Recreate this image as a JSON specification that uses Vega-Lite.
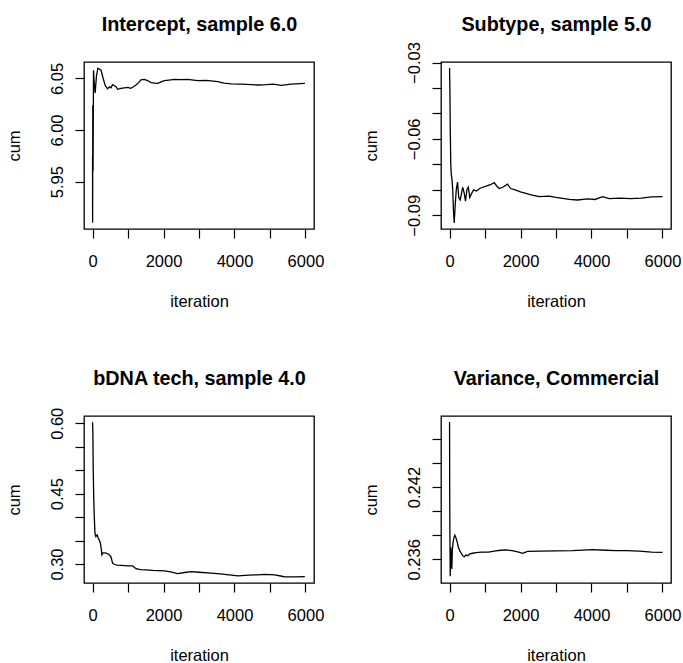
{
  "$schema": "https://vega.github.io/schema/vega-lite/v6.json",
  "padding": {"left": 5, "top": 13, "right": 0, "bottom": 0},
  "background": "white",
  "config": {
    "font": "Liberation Sans",
    "view": {"stroke": "black", "strokeWidth": 1.3},
    "axis": {
      "domain": false, "grid": false, "ticks": true, "tickColor": "black", "tickSize": 9, "tickWidth": 1.2,
      "labelFont": "Liberation Sans", "labelFontSize": 16.5, "labelColor": "black", "labelOverlap": false, "labelFlush": false,
      "titleFont": "Liberation Sans", "titleFontSize": 16.5, "titleFontWeight": "normal", "titleColor": "black"
    },
    "axisX": {
      "labelAngle": 0, "labelAlign": "center", "labelBaseline": "alphabetic", "labelPadding": 28.5,
      "titleX": 115, "titleY": 77, "titleBaseline": "alphabetic", "titleAlign": "center"
    },
    "axisY": {
      "labelAngle": 270, "labelAlign": "center", "labelBaseline": "alphabetic", "labelPadding": 13,
      "titleAngle": 270, "titleX": -65, "titleY": 83.5, "titleBaseline": "alphabetic", "titleAlign": "center"
    },
    "axisTop": {"ticks": false, "labels": false, "titleY": -32, "titleFontWeight": "bold", "titleFontSize": 19.8, "titleX": 115}
  },
  "datasets": {
    "p1": [
      {"iteration": 1, "cum": 5.975}, {"iteration": 3, "cum": 5.910}, {"iteration": 8, "cum": 6.024}, {"iteration": 15, "cum": 5.960},
      {"iteration": 28, "cum": 6.058}, {"iteration": 50, "cum": 6.045}, {"iteration": 75, "cum": 6.036}, {"iteration": 110, "cum": 6.052},
      {"iteration": 150, "cum": 6.060}, {"iteration": 200, "cum": 6.059}, {"iteration": 240, "cum": 6.058}, {"iteration": 300, "cum": 6.050},
      {"iteration": 360, "cum": 6.043}, {"iteration": 424, "cum": 6.040}, {"iteration": 480, "cum": 6.042}, {"iteration": 520, "cum": 6.041},
      {"iteration": 565, "cum": 6.044}, {"iteration": 620, "cum": 6.043}, {"iteration": 660, "cum": 6.042}, {"iteration": 707, "cum": 6.0395},
      {"iteration": 800, "cum": 6.0405}, {"iteration": 900, "cum": 6.041}, {"iteration": 990, "cum": 6.0414}, {"iteration": 1080, "cum": 6.0405},
      {"iteration": 1150, "cum": 6.042}, {"iteration": 1225, "cum": 6.0437}, {"iteration": 1300, "cum": 6.046}, {"iteration": 1366, "cum": 6.0486},
      {"iteration": 1460, "cum": 6.0492}, {"iteration": 1550, "cum": 6.048}, {"iteration": 1650, "cum": 6.046}, {"iteration": 1760, "cum": 6.0455},
      {"iteration": 1837, "cum": 6.0453}, {"iteration": 1950, "cum": 6.047}, {"iteration": 2025, "cum": 6.048}, {"iteration": 2150, "cum": 6.0485},
      {"iteration": 2308, "cum": 6.0492}, {"iteration": 2500, "cum": 6.049}, {"iteration": 2685, "cum": 6.0492}, {"iteration": 2850, "cum": 6.0485},
      {"iteration": 2967, "cum": 6.0479}, {"iteration": 3200, "cum": 6.0482}, {"iteration": 3532, "cum": 6.047}, {"iteration": 3700, "cum": 6.0455},
      {"iteration": 3910, "cum": 6.0447}, {"iteration": 4200, "cum": 6.0445}, {"iteration": 4663, "cum": 6.0437}, {"iteration": 4900, "cum": 6.044},
      {"iteration": 5100, "cum": 6.0445}, {"iteration": 5313, "cum": 6.0434}, {"iteration": 5600, "cum": 6.0445}, {"iteration": 5983, "cum": 6.0453}
    ],
    "p2": [
      {"iteration": 1, "cum": -0.0322}, {"iteration": 10, "cum": -0.0400}, {"iteration": 20, "cum": -0.0550}, {"iteration": 35, "cum": -0.0700},
      {"iteration": 50, "cum": -0.0740}, {"iteration": 70, "cum": -0.0760}, {"iteration": 90, "cum": -0.0800}, {"iteration": 110, "cum": -0.0880},
      {"iteration": 132, "cum": -0.0930}, {"iteration": 160, "cum": -0.0860}, {"iteration": 190, "cum": -0.0800}, {"iteration": 226, "cum": -0.0770},
      {"iteration": 260, "cum": -0.0830}, {"iteration": 300, "cum": -0.0840}, {"iteration": 330, "cum": -0.0820}, {"iteration": 370, "cum": -0.0790},
      {"iteration": 410, "cum": -0.0810}, {"iteration": 450, "cum": -0.0845}, {"iteration": 490, "cum": -0.0800}, {"iteration": 530, "cum": -0.0790},
      {"iteration": 570, "cum": -0.0830}, {"iteration": 620, "cum": -0.0815}, {"iteration": 680, "cum": -0.0800}, {"iteration": 760, "cum": -0.0805},
      {"iteration": 850, "cum": -0.0795}, {"iteration": 930, "cum": -0.0790}, {"iteration": 1050, "cum": -0.0785}, {"iteration": 1150, "cum": -0.0780},
      {"iteration": 1259, "cum": -0.0772}, {"iteration": 1330, "cum": -0.0785}, {"iteration": 1400, "cum": -0.0795}, {"iteration": 1500, "cum": -0.0790},
      {"iteration": 1634, "cum": -0.0778}, {"iteration": 1720, "cum": -0.0795}, {"iteration": 1850, "cum": -0.0800}, {"iteration": 2000, "cum": -0.0808},
      {"iteration": 2151, "cum": -0.0814}, {"iteration": 2300, "cum": -0.0820}, {"iteration": 2527, "cum": -0.0827}, {"iteration": 2800, "cum": -0.0825},
      {"iteration": 3000, "cum": -0.0830}, {"iteration": 3372, "cum": -0.0838}, {"iteration": 3600, "cum": -0.0840}, {"iteration": 3900, "cum": -0.0836},
      {"iteration": 4100, "cum": -0.0838}, {"iteration": 4310, "cum": -0.0827}, {"iteration": 4500, "cum": -0.0835}, {"iteration": 4800, "cum": -0.0833},
      {"iteration": 5100, "cum": -0.0835}, {"iteration": 5400, "cum": -0.0833}, {"iteration": 5700, "cum": -0.0828}, {"iteration": 6000, "cum": -0.0827}
    ],
    "p3": [
      {"iteration": 1, "cum": 0.6023}, {"iteration": 10, "cum": 0.580}, {"iteration": 20, "cum": 0.500}, {"iteration": 35, "cum": 0.440},
      {"iteration": 50, "cum": 0.400}, {"iteration": 70, "cum": 0.365}, {"iteration": 94, "cum": 0.3585}, {"iteration": 130, "cum": 0.362},
      {"iteration": 160, "cum": 0.355}, {"iteration": 188, "cum": 0.3515}, {"iteration": 220, "cum": 0.345}, {"iteration": 250, "cum": 0.330},
      {"iteration": 264, "cum": 0.3196}, {"iteration": 300, "cum": 0.324}, {"iteration": 350, "cum": 0.324}, {"iteration": 400, "cum": 0.323},
      {"iteration": 450, "cum": 0.321}, {"iteration": 518, "cum": 0.316}, {"iteration": 565, "cum": 0.3019}, {"iteration": 620, "cum": 0.299},
      {"iteration": 700, "cum": 0.2975}, {"iteration": 800, "cum": 0.297}, {"iteration": 900, "cum": 0.2965}, {"iteration": 1000, "cum": 0.296},
      {"iteration": 1130, "cum": 0.296}, {"iteration": 1225, "cum": 0.290}, {"iteration": 1350, "cum": 0.288}, {"iteration": 1500, "cum": 0.2875},
      {"iteration": 1700, "cum": 0.2865}, {"iteration": 1850, "cum": 0.286}, {"iteration": 2025, "cum": 0.2855}, {"iteration": 2200, "cum": 0.2835},
      {"iteration": 2400, "cum": 0.2798}, {"iteration": 2600, "cum": 0.282}, {"iteration": 2778, "cum": 0.284}, {"iteration": 3000, "cum": 0.2825},
      {"iteration": 3343, "cum": 0.2806}, {"iteration": 3600, "cum": 0.279}, {"iteration": 3908, "cum": 0.2763}, {"iteration": 4097, "cum": 0.2749},
      {"iteration": 4400, "cum": 0.2765}, {"iteration": 4663, "cum": 0.277}, {"iteration": 4851, "cum": 0.278}, {"iteration": 5000, "cum": 0.2775},
      {"iteration": 5134, "cum": 0.277}, {"iteration": 5300, "cum": 0.2745}, {"iteration": 5417, "cum": 0.2727}, {"iteration": 5700, "cum": 0.2728},
      {"iteration": 5983, "cum": 0.2730}
    ],
    "p4": [
      {"iteration": 1, "cum": 0.2474}, {"iteration": 5, "cum": 0.2420}, {"iteration": 10, "cum": 0.2385}, {"iteration": 20, "cum": 0.2346},
      {"iteration": 35, "cum": 0.2370}, {"iteration": 50, "cum": 0.2360}, {"iteration": 65, "cum": 0.2352}, {"iteration": 80, "cum": 0.2368},
      {"iteration": 100, "cum": 0.2374}, {"iteration": 125, "cum": 0.2378}, {"iteration": 151, "cum": 0.2380}, {"iteration": 180, "cum": 0.2378},
      {"iteration": 210, "cum": 0.2375}, {"iteration": 250, "cum": 0.2370}, {"iteration": 290, "cum": 0.2367}, {"iteration": 330, "cum": 0.2365},
      {"iteration": 370, "cum": 0.2363}, {"iteration": 414, "cum": 0.2362}, {"iteration": 460, "cum": 0.23635}, {"iteration": 520, "cum": 0.2363},
      {"iteration": 570, "cum": 0.23645}, {"iteration": 650, "cum": 0.2365}, {"iteration": 750, "cum": 0.23655}, {"iteration": 900, "cum": 0.2366},
      {"iteration": 1100, "cum": 0.2366}, {"iteration": 1300, "cum": 0.2367}, {"iteration": 1450, "cum": 0.23675}, {"iteration": 1588, "cum": 0.23678},
      {"iteration": 1800, "cum": 0.2367}, {"iteration": 1950, "cum": 0.2366}, {"iteration": 2057, "cum": 0.2365}, {"iteration": 2200, "cum": 0.23665},
      {"iteration": 2527, "cum": 0.23667}, {"iteration": 3000, "cum": 0.2367}, {"iteration": 3466, "cum": 0.23672}, {"iteration": 4029, "cum": 0.23681},
      {"iteration": 4400, "cum": 0.23675}, {"iteration": 4687, "cum": 0.23672}, {"iteration": 5000, "cum": 0.23672}, {"iteration": 5344, "cum": 0.23667},
      {"iteration": 5700, "cum": 0.2366}, {"iteration": 6000, "cum": 0.23658}
    ]
  },
  "columns": 2,
  "spacing": {"row": 187, "column": 127},
  "bounds": "flush",
  "concat": [
    {
      "width": 230, "height": 167,
      "data": {"name": "p1"},
      "resolve": {"axis": {"x": "independent"}},
      "layer": [
        {
          "mark": {"type": "line", "color": "black", "strokeWidth": 1.3},
          "encoding": {
            "x": {"field": "iteration", "type": "quantitative", "scale": {"domain": [-240, 6240], "nice": false, "zero": false},
                  "axis": {"orient": "bottom", "title": "iteration", "values": [0, 1000, 2000, 3000, 4000, 5000, 6000], "labelExpr": "round(datum.value/1000) % 2 == 0 ? format(datum.value, 'd') : ''"}},
            "y": {"field": "cum", "type": "quantitative", "scale": {"domain": [5.904, 6.066], "nice": false, "zero": false},
                  "axis": {"title": "cum", "values": [5.95, 6.0, 6.05], "labelExpr": "format(datum.value, '.2f')"}}
          }
        },
        {
          "mark": {"type": "line", "opacity": 0},
          "encoding": {
            "x": {"field": "iteration", "type": "quantitative", "axis": {"orient": "top", "title": "Intercept, sample 6.0"}}
          }
        }
      ]
    },
    {
      "width": 230, "height": 167,
      "data": {"name": "p2"},
      "resolve": {"axis": {"x": "independent"}},
      "layer": [
        {
          "mark": {"type": "line", "color": "black", "strokeWidth": 1.3},
          "encoding": {
            "x": {"field": "iteration", "type": "quantitative", "scale": {"domain": [-240, 6240], "nice": false, "zero": false},
                  "axis": {"orient": "bottom", "title": "iteration", "values": [0, 1000, 2000, 3000, 4000, 5000, 6000], "labelExpr": "round(datum.value/1000) % 2 == 0 ? format(datum.value, 'd') : ''"}},
            "y": {"field": "cum", "type": "quantitative", "scale": {"domain": [-0.0954, -0.0298], "nice": false, "zero": false},
                  "axis": {"title": "cum", "values": [-0.09, -0.08, -0.07, -0.06, -0.05, -0.04, -0.03], "labelExpr": "abs(round(datum.value*100)) % 3 == 0 ? format(datum.value, '.2f') : ''"}}
          }
        },
        {
          "mark": {"type": "line", "opacity": 0},
          "encoding": {
            "x": {"field": "iteration", "type": "quantitative", "axis": {"orient": "top", "title": "Subtype, sample 5.0"}}
          }
        }
      ]
    },
    {
      "width": 230, "height": 167,
      "data": {"name": "p3"},
      "resolve": {"axis": {"x": "independent"}},
      "layer": [
        {
          "mark": {"type": "line", "color": "black", "strokeWidth": 1.3},
          "encoding": {
            "x": {"field": "iteration", "type": "quantitative", "scale": {"domain": [-240, 6240], "nice": false, "zero": false},
                  "axis": {"orient": "bottom", "title": "iteration", "values": [0, 1000, 2000, 3000, 4000, 5000, 6000], "labelExpr": "round(datum.value/1000) % 2 == 0 ? format(datum.value, 'd') : ''"}},
            "y": {"field": "cum", "type": "quantitative", "scale": {"domain": [0.2596, 0.6155], "nice": false, "zero": false},
                  "axis": {"title": "cum", "values": [0.30, 0.35, 0.40, 0.45, 0.50, 0.55, 0.60], "labelExpr": "round(datum.value*100) % 15 == 0 ? format(datum.value, '.2f') : ''"}}
          }
        },
        {
          "mark": {"type": "line", "opacity": 0},
          "encoding": {
            "x": {"field": "iteration", "type": "quantitative", "axis": {"orient": "top", "title": "bDNA tech, sample 4.0"}}
          }
        }
      ]
    },
    {
      "width": 230, "height": 167,
      "data": {"name": "p4"},
      "resolve": {"axis": {"x": "independent"}},
      "layer": [
        {
          "mark": {"type": "line", "color": "black", "strokeWidth": 1.3},
          "encoding": {
            "x": {"field": "iteration", "type": "quantitative", "scale": {"domain": [-240, 6240], "nice": false, "zero": false},
                  "axis": {"orient": "bottom", "title": "iteration", "values": [0, 1000, 2000, 3000, 4000, 5000, 6000], "labelExpr": "round(datum.value/1000) % 2 == 0 ? format(datum.value, 'd') : ''"}},
            "y": {"field": "cum", "type": "quantitative", "scale": {"domain": [0.23403, 0.2479], "nice": false, "zero": false},
                  "axis": {"title": "cum", "values": [0.236, 0.238, 0.240, 0.242, 0.244, 0.246], "labelExpr": "(round(datum.value*1000) - 236) % 6 == 0 ? format(datum.value, '.3f') : ''"}}
          }
        },
        {
          "mark": {"type": "line", "opacity": 0},
          "encoding": {
            "x": {"field": "iteration", "type": "quantitative", "axis": {"orient": "top", "title": "Variance, Commercial"}}
          }
        }
      ]
    }
  ]
}
